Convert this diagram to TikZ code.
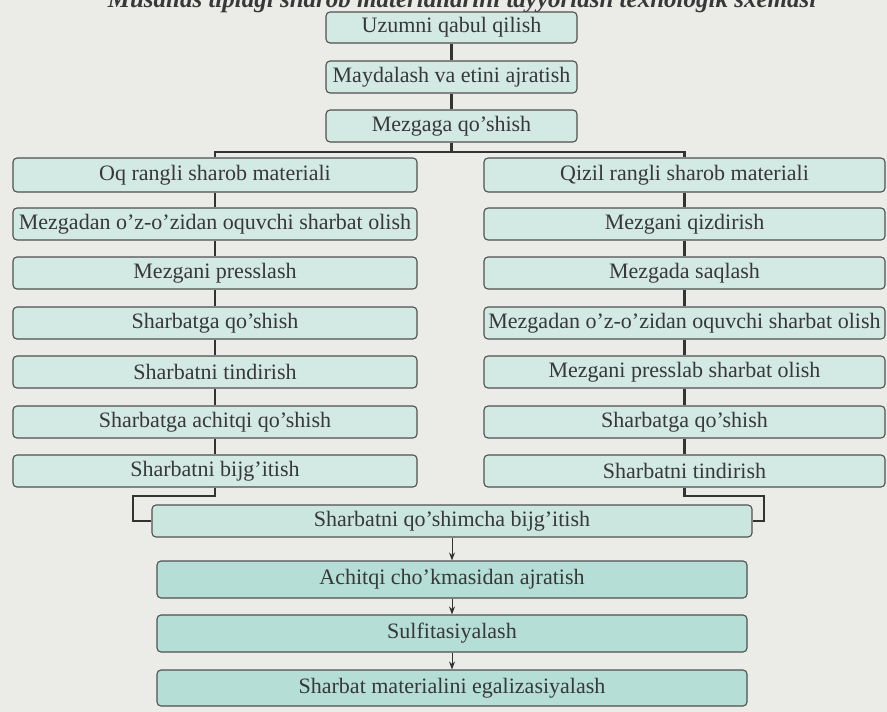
\documentclass[tikz,border=0pt]{standalone}
\usepackage{fontspec}
\setmainfont{Liberation Serif}
\usetikzlibrary{arrows.meta}
\definecolor{bgcol}{HTML}{EBEBE7}
\definecolor{boxfill}{HTML}{D3E9E3}
\definecolor{boxfillb}{HTML}{CBE6DF}
\definecolor{boxfillc}{HTML}{B4DED6}
\definecolor{edge}{HTML}{505050}
\definecolor{txt}{HTML}{383838}
\definecolor{linec}{HTML}{333333}
\begin{document}
\begin{tikzpicture}[x=1pt,y=-1pt,
  stepbox/.style={draw=edge, line width=1.1pt, rounded corners=4pt, fill=boxfill,
    text=txt, inner sep=0pt, font=\fontsize{22}{22}\selectfont},
  conn/.style={draw=linec, line width=2.6pt},
  arr/.style={draw=linec, line width=0.9pt, -{Stealth[length=8pt,width=6pt]}}]
\useasboundingbox (0,0) rectangle (887,712);
\clip (0,0) rectangle (887,712);
\fill[bgcol] (0,0) rectangle (887,712);
\node[anchor=base, text=txt, font=\bfseries\itshape\fontsize{25}{25}\selectfont] (title) at (462,7)
  {Musallas tiplagi sharob materiallarini tayyorlash texnologik sxemasi};
% top column
\node[stepbox, minimum width=251, minimum height=31] (u) at (451.5,27.5) {Uzumni qabul qilish};
\node[stepbox, minimum width=251, minimum height=32] (m) at (451.5,77) {Maydalash va etini ajratish};
\node[stepbox, minimum width=251, minimum height=32] (z) at (451.5,126) {Mezgaga qo’shish};
% left column
\node[stepbox, minimum width=404, minimum height=34] (L1) at (215,175) {Oq rangli sharob materiali};
\node[stepbox, minimum width=404, minimum height=32] (L2) at (215,224) {Mezgadan o’z-o’zidan oquvchi sharbat olish};
\node[stepbox, minimum width=404, minimum height=32] (L3) at (215,273) {Mezgani presslash};
\node[stepbox, minimum width=404, minimum height=32] (L4) at (215,323) {Sharbatga qo’shish};
\node[stepbox, minimum width=404, minimum height=32] (L5) at (215,372) {Sharbatni tindirish};
\node[stepbox, minimum width=404, minimum height=32] (L6) at (215,422) {Sharbatga achitqi qo’shish};
\node[stepbox, minimum width=404, minimum height=32] (L7) at (215,471) {Sharbatni bijg’itish};
% right column
\node[stepbox, minimum width=401, minimum height=34] (R1) at (684.5,175) {Qizil rangli sharob materiali};
\node[stepbox, minimum width=401, minimum height=32] (R2) at (684.5,224) {Mezgani qizdirish};
\node[stepbox, minimum width=401, minimum height=32] (R3) at (684.5,273) {Mezgada saqlash};
\node[stepbox, minimum width=401, minimum height=32] (R4) at (684.5,323) {Mezgadan o’z-o’zidan oquvchi sharbat olish};
\node[stepbox, minimum width=401, minimum height=32] (R5) at (684.5,372) {Mezgani presslab sharbat olish};
\node[stepbox, minimum width=401, minimum height=32] (R6) at (684.5,422) {Sharbatga qo’shish};
\node[stepbox, minimum width=401, minimum height=32] (R7) at (684.5,471) {Sharbatni tindirish};
% bottom column
\node[stepbox, fill=boxfillb, minimum width=600, minimum height=32] (q) at (452,521) {Sharbatni qo’shimcha bijg’itish};
\node[stepbox, fill=boxfillc, minimum width=590, minimum height=37] (a) at (452,579.5) {Achitqi cho’kmasidan ajratish};
\node[stepbox, fill=boxfillc, minimum width=590, minimum height=37] (s) at (452,633.5) {Sulfitasiyalash};
\node[stepbox, fill=boxfillc, minimum width=590, minimum height=36] (e) at (452,688) {Sharbat materialini egalizasiyalash};
% connectors
\coordinate (busL) at (215,152);
\coordinate (busR) at (684.5,152);
\coordinate (jl) at (133,496);
\coordinate (jr) at (764,496);
\draw[conn] (u) -- (m);
\draw[conn] (m) -- (z);
\draw[conn] (z.south) -- (z.south |- busL);
\draw[conn] (L1.north) -- (busL) -- (busR) -- (R1.north);
\foreach \i/\j in {1/2,2/3,3/4,4/5,5/6,6/7}{
  \draw[conn] (L\i) -- (L\j);
  \draw[conn] (R\i) -- (R\j);
}
\draw[conn] (L7.south) -- (L7.south |- jl) -- (jl) -- (q.west -| jl) -- (q.west);
\draw[conn] (R7.south) -- (R7.south |- jr) -- (jr) -- (q.east -| jr) -- (q.east);
\draw[arr] (q) -- (a);
\draw[arr] (a) -- (s);
\draw[arr] (s) -- (e);
\end{tikzpicture}
\end{document}
